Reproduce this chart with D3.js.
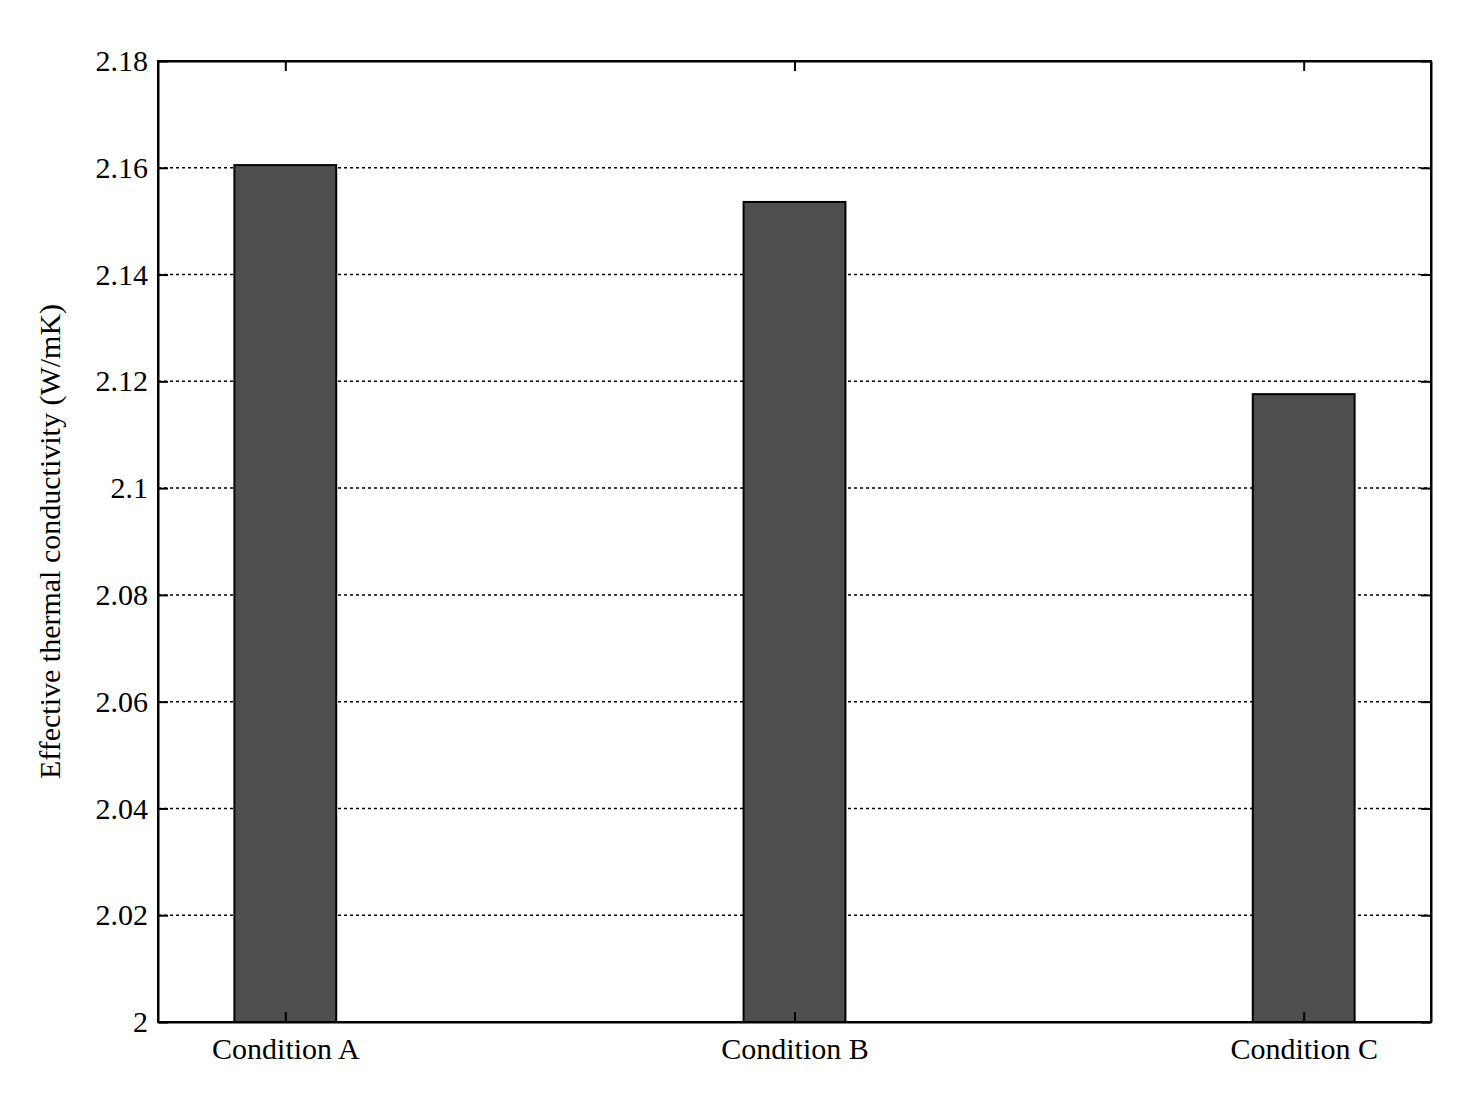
<!DOCTYPE html>
<html><head><meta charset="utf-8">
<script src="https://cdn.jsdelivr.net/npm/d3@7"></script>
<style>body{margin:0;background:#fff}</style></head>
<body><svg id="c" width="1462" height="1100"></svg>
<script>
const categories = ["Condition A","Condition B","Condition C"];
const values = [2.1605, 2.1536, 2.1176];
const yTicks = [2,2.02,2.04,2.06,2.08,2.1,2.12,2.14,2.16,2.18];
const yLabels = ["2","2.02","2.04","2.06","2.08","2.1","2.12","2.14","2.16","2.18"];

const L=158,R=1431,T=61,B=1022;
const svg=d3.select("#c");
const x=d3.scaleLinear().domain([0.75,3.25]).range([L,R]);
const y=d3.scaleLinear().domain([2,2.18]).range([B,T]);
const font="'Liberation Serif','Times New Roman',serif";

// grid
svg.append("g").selectAll("line").data(yTicks.slice(1,-1)).join("line")
  .attr("x1",L).attr("x2",R).attr("y1",d=>y(d)).attr("y2",d=>y(d))
  .attr("stroke","#000").attr("stroke-width",1.5).attr("stroke-dasharray","3,3");

// bars
svg.append("g").selectAll("rect").data(values).join("rect")
  .attr("x",(d,i)=>x(i+1)-x(0.1)+x(0)).attr("width",x(0.2)-x(0))
  .attr("y",d=>y(d)).attr("height",d=>B-y(d))
  .attr("fill","#4f4f4f").attr("stroke","#000").attr("stroke-width",2);

// axes
const yAx=svg.append("g").attr("transform",`translate(${L},0)`)
  .call(d3.axisLeft(y).tickValues(yTicks).tickFormat((d,i)=>yLabels[i]).tickSizeInner(-10).tickSizeOuter(0).tickPadding(10));
const yAxR=svg.append("g").attr("transform",`translate(${R},0)`)
  .call(d3.axisRight(y).tickValues(yTicks).tickFormat("").tickSizeInner(-10).tickSizeOuter(0));
const xAx=svg.append("g").attr("transform",`translate(0,${B})`)
  .call(d3.axisBottom(x).tickValues([1,2,3]).tickFormat((d)=>categories[d-1]).tickSizeInner(-10).tickSizeOuter(0).tickPadding(16));
const xAxT=svg.append("g").attr("transform",`translate(0,${T})`)
  .call(d3.axisTop(x).tickValues([1,2,3]).tickFormat("").tickSizeInner(-10).tickSizeOuter(0));
[yAx,yAxR,xAx,xAxT].forEach(g=>{
  g.selectAll("path,line").attr("stroke","#000").attr("stroke-width",2);
  g.selectAll("text").attr("font-family",font).attr("font-size",30).attr("fill","#000");
});
svg.append("rect").attr("x",L).attr("y",T).attr("width",R-L).attr("height",B-T)
  .attr("fill","none").attr("stroke","#000").attr("stroke-width",2);

svg.append("text").attr("transform",`translate(60,${(T+B)/2}) rotate(-90)`)
  .attr("text-anchor","middle").attr("font-family",font).attr("font-size",30)
  .text("Effective thermal conductivity (W/mK)");
</script></body></html>
